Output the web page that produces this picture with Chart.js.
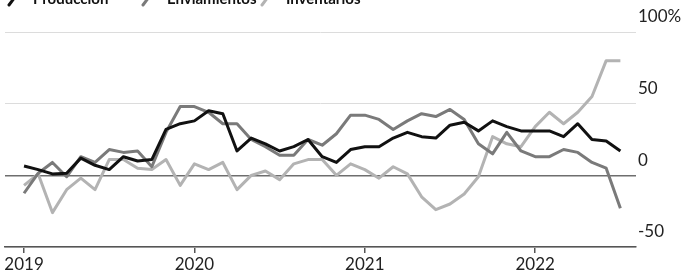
<!DOCTYPE html>
<html>
<head>
<meta charset="utf-8">
<script src="https://cdn.jsdelivr.net/npm/chart.js@4/dist/chart.umd.min.js"></script>
<style>
  html, body { margin: 0; padding: 0; background: #fff; overflow: hidden; }
  #wrap { position: relative; width: 681px; height: 273px; }
  canvas { display: block; }
</style>
</head>
<body>
<div id="wrap"><canvas id="c" width="681" height="273"></canvas></div>
<script>
// ---- Data (monthly, Jan 2019 .. Jul 2022) ----
const months = [
  '2019-01','2019-02','2019-03','2019-04','2019-05','2019-06','2019-07','2019-08','2019-09','2019-10','2019-11','2019-12',
  '2020-01','2020-02','2020-03','2020-04','2020-05','2020-06','2020-07','2020-08','2020-09','2020-10','2020-11','2020-12',
  '2021-01','2021-02','2021-03','2021-04','2021-05','2021-06','2021-07','2021-08','2021-09','2021-10','2021-11','2021-12',
  '2022-01','2022-02','2022-03','2022-04','2022-05','2022-06','2022-07'
];
const produccion = [6.5, 4, 1, 1.5, 12, 7, 4, 13, 10, 11, 32, 36, 38, 45, 43,
  17, 26, 22, 17, 20, 25, 13, 9, 18, 20, 20, 26, 30, 27,
  26, 35, 37, 31, 38, 34, 31, 31, 31, 27, 36, 25, 24, 17];
const envios = [-12.5, 1.5, 9, -1, 13, 9, 18, 16, 17, 6, 30, 48, 48, 44, 36,
  36, 25, 20, 14, 14, 25, 21, 29, 42, 42, 39, 32, 38, 43,
  41, 46, 39, 22, 15, 30, 17, 13, 13, 18, 16, 9, 5, -23];
const inventarios = [-7, 1, -26, -10, -2, -10, 11, 11, 5, 4, 11, -7, 8, 4, 9,
  -10, 0, 3, -3, 8, 11, 11, 0, 8, 4, -2, 6, 1, -15,
  -24, -20, -13, -1, 27, 22, 20, 34, 44, 36, 44, 55, 80, 80];
const seriesNames = ['Producción', 'Envíamientos', 'Inventarios'];
const yearLabels = ['2019', '2020', '2021', '2022'];
const yTicks = [-50, 0, 50, 100];

const colors = ['#111111', '#7a7a7a', '#b3b3b3'];
const FONT = 'Lato, "Open Sans", sans-serif';

const toPoints = arr => arr.map((v, i) => ({ x: i, y: v }));
const yearPositions = yearLabels.map(y => months.indexOf(y + '-01'));

const legendPlugin = {
  id: 'customLegend',
  afterDraw(chart) {
    const ctx = chart.ctx;
    const items = [
      { mx: 9, tx: 33 },
      { mx: 143, tx: 167 },
      { mx: 262, tx: 286 }
    ];
    ctx.save();
    ctx.font = 'bold 15px ' + FONT;
    ctx.textBaseline = 'alphabetic';
    ctx.fillStyle = '#111';
    items.forEach((it, i) => {
      ctx.strokeStyle = colors[i];
      ctx.lineWidth = 3;
      ctx.lineCap = 'round';
      ctx.beginPath();
      ctx.moveTo(it.mx, 5);
      ctx.lineTo(it.mx + 6, -3);
      ctx.stroke();
      ctx.fillText(seriesNames[i], it.tx, 4);
    });
    ctx.restore();
  }
};

new Chart(document.getElementById('c'), {
  type: 'line',
  data: {
    datasets: [
      { label: seriesNames[0], data: toPoints(produccion), borderColor: colors[0] },
      { label: seriesNames[1], data: toPoints(envios), borderColor: colors[1] },
      { label: seriesNames[2], data: toPoints(inventarios), borderColor: colors[2] }
    ]
  },
  options: {
    responsive: false,
    devicePixelRatio: 1,
    animation: false,
    layout: { padding: { left: 5, top: 32, right: 0, bottom: 0 } },
    elements: {
      line: { borderWidth: 3, tension: 0, borderJoinStyle: 'round', borderCapStyle: 'butt' },
      point: { radius: 0 }
    },
    plugins: { legend: { display: false }, tooltip: { enabled: false } },
    scales: {
      x: {
        type: 'linear',
        min: -1.34,
        max: 43.1,
        position: 'bottom',
        border: { display: true, color: '#555', width: 1.5 },
        grid: { drawOnChartArea: false, drawTicks: true, tickLength: 6, color: '#555', lineWidth: 1.5 },
        afterBuildTicks(scale) { scale.ticks = yearPositions.map(v => ({ value: v })); },
        afterFit(scale) { scale.height = 26; },
        ticks: {
          autoSkip: false, maxRotation: 0, padding: 1,
          color: '#222', font: { family: FONT, size: 17 },
          callback: (v) => yearLabels[yearPositions.indexOf(v)]
        }
      },
      y: {
        position: 'right',
        min: -50,
        max: 100,
        border: { display: false },
        grid: {
          drawTicks: false,
          color: c => (c.tick && c.tick.value === 0) ? '#6e6e6e' : '#dcdcdc',
          lineWidth: c => (c.tick && c.tick.value === 0) ? 1.5 : 1
        },
        afterBuildTicks(scale) { scale.ticks = yTicks.map(v => ({ value: v })); },
        afterFit(scale) { scale.width = 45; },
        ticks: {
          padding: 2, labelOffset: -15,
          color: '#222', font: { family: FONT, size: 17 },
          callback: v => v === 100 ? '100%' : String(v)
        }
      }
    }
  },
  plugins: [legendPlugin]
});
</script>
</body>
</html>
